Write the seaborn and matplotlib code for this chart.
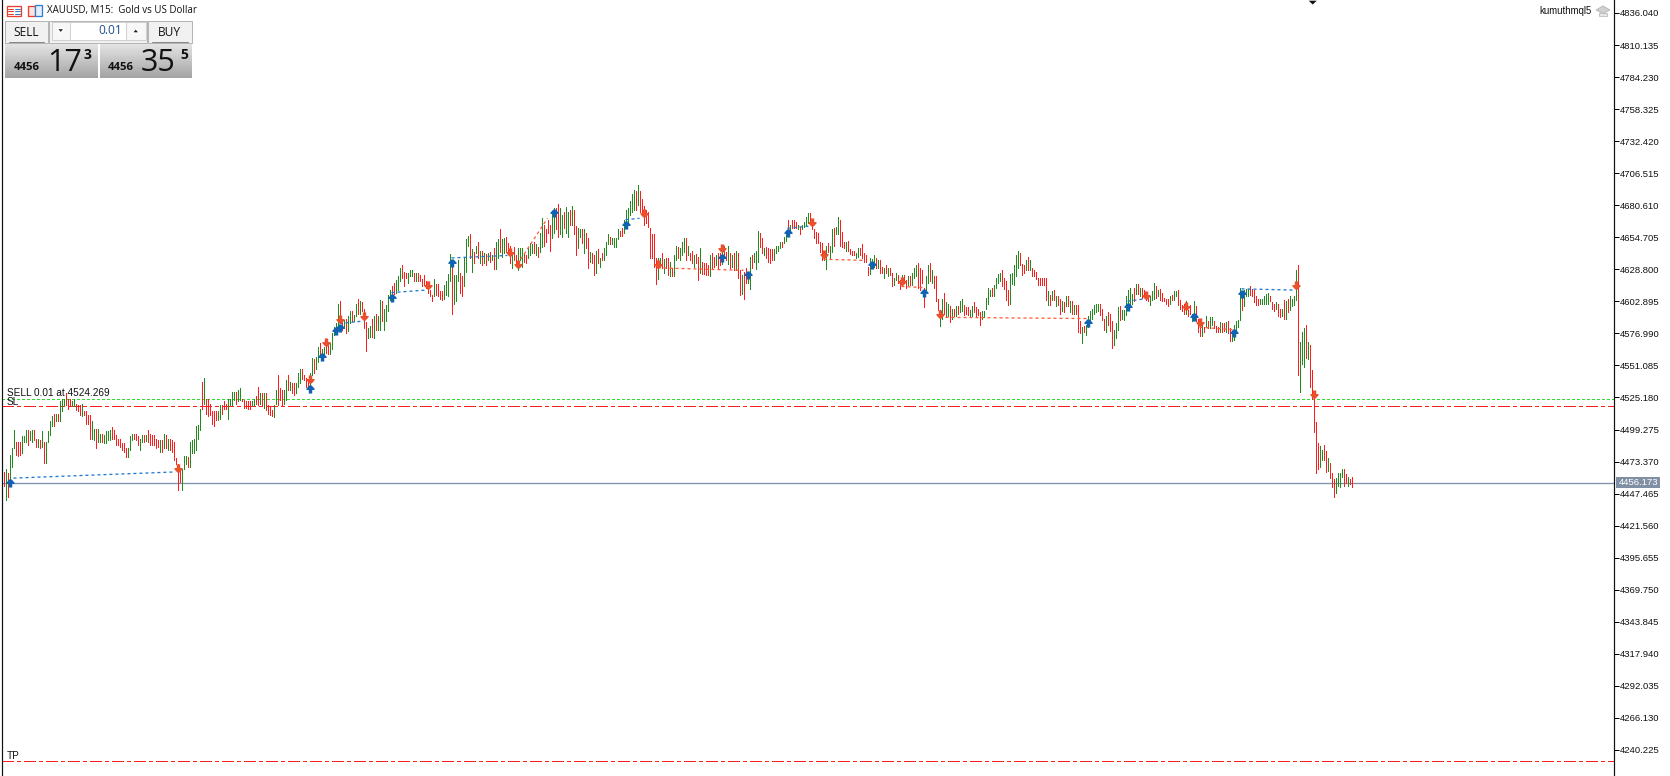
import numpy as np
import pandas as pd
import matplotlib
matplotlib.use("Agg")
import matplotlib.pyplot as plt
from matplotlib.patches import Rectangle, Polygon
from matplotlib.path import Path
import seaborn as sns

highs = [4465,4467,4464,4479,4484,4499,4489,4489,4489,4494,4494,4499,4499,4498,4499,4499,4492,4492,4491,4498,
4489,4489,4498,4506,4510,4512,4512,4512,4522,4524,4524,4529,4524,4524,4522,4524,4520,4519,4519,4520,
4514,4514,4511,4511,4506,4500,4500,4500,4496,4496,4495,4498,4498,4499,4501,4499,4495,4492,4492,4488,
4488,4484,4484,4494,4496,4496,4496,4494,4492,4495,4495,4495,4499,4496,4495,4495,4492,4491,4491,4491,
4496,4495,4492,4492,4491,4489,4476,4471,4468,4467,4478,4478,4477,4489,4491,4492,4502,4503,4516,4538,
4541,4524,4524,4520,4514,4514,4514,4514,4519,4519,4522,4520,4524,4524,4530,4530,4530,4531,4533,4524,
4523,4522,4522,4522,4522,4524,4526,4534,4529,4529,4529,4529,4519,4518,4515,4519,4531,4543,4533,4531,
4531,4539,4543,4538,4537,4537,4537,4545,4548,4548,4543,4541,4539,4545,4557,4556,4558,4566,4569,4564,
4566,4570,4568,4569,4577,4582,4585,4601,4603,4587,4588,4589,4591,4595,4595,4592,4601,4605,4603,4602,
4597,4586,4581,4583,4589,4591,4593,4591,4604,4603,4597,4600,4608,4612,4615,4618,4620,4623,4630,4632,
4627,4626,4626,4628,4628,4626,4626,4626,4624,4621,4624,4619,4618,4612,4608,4621,4617,4617,4611,4611,
4616,4619,4625,4641,4631,4624,4624,4636,4626,4623,4638,4653,4656,4657,4645,4643,4648,4651,4644,4644,
4642,4641,4642,4643,4640,4646,4651,4653,4661,4653,4654,4655,4650,4648,4643,4647,4640,4646,4646,4646,
4642,4640,4647,4650,4649,4651,4649,4647,4658,4670,4665,4661,4669,4665,4674,4678,4678,4682,4678,4673,
4675,4679,4675,4677,4680,4677,4664,4662,4661,4661,4661,4658,4654,4643,4642,4640,4644,4645,4638,4642,
4646,4651,4657,4655,4654,4654,4654,4661,4660,4662,4669,4677,4678,4684,4690,4693,4692,4697,4692,4686,
4680,4677,4675,4662,4657,4657,4638,4638,4638,4642,4637,4638,4638,4635,4630,4640,4648,4647,4646,4651,
4654,4654,4648,4642,4644,4640,4641,4639,4646,4635,4634,4634,4632,4640,4642,4639,4640,4642,4642,4643,
4648,4643,4648,4642,4640,4642,4644,4642,4628,4624,4627,4630,4626,4639,4640,4642,4644,4660,4658,4654,
4646,4647,4646,4645,4645,4645,4648,4648,4651,4651,4655,4657,4669,4665,4669,4669,4667,4665,4663,4665,
4667,4671,4674,4674,4669,4661,4659,4658,4651,4650,4642,4648,4650,4648,4661,4662,4663,4671,4669,4659,
4651,4651,4652,4645,4644,4644,4642,4646,4646,4649,4642,4640,4631,4638,4637,4640,4638,4636,4636,4631,
4630,4632,4630,4630,4626,4622,4626,4624,4620,4624,4624,4620,4623,4623,4626,4630,4632,4634,4630,4628,
4614,4623,4632,4634,4628,4623,4623,4605,4596,4605,4610,4602,4601,4599,4597,4597,4599,4599,4603,4605,
4600,4598,4598,4596,4599,4602,4598,4597,4594,4595,4595,4606,4614,4612,4614,4616,4622,4625,4626,4628,
4622,4619,4612,4625,4626,4632,4640,4644,4642,4633,4632,4636,4639,4636,4630,4628,4627,4622,4622,4622,
4622,4622,4611,4608,4611,4612,4607,4607,4605,4603,4602,4607,4607,4603,4603,4600,4600,4600,4587,4582,
4583,4584,4591,4595,4597,4600,4601,4601,4601,4597,4589,4591,4594,4593,4587,4580,4585,4598,4599,4596,
4596,4607,4612,4614,4609,4614,4617,4617,4614,4614,4612,4609,4608,4607,4611,4618,4615,4612,4613,4610,
4606,4605,4605,4607,4608,4611,4611,4612,4604,4600,4601,4603,4596,4600,4593,4603,4599,4589,4585,4585,
4582,4591,4587,4590,4590,4587,4583,4582,4586,4585,4585,4586,4587,4581,4577,4584,4587,4588,4614,4611,
4612,4613,4613,4615,4613,4612,4607,4605,4605,4605,4607,4609,4610,4607,4602,4601,4602,4601,4597,4597,
4604,4603,4605,4607,4605,4607,4628,4632,4570,4578,4581,4584,4570,4568,4547,4530,4505,4488,4486,4483,
4487,4482,4476,4472,4464,4459,4460,4464,4464,4467,4467,4463,4461,4459,4461]
lows = [4454,4442,4445,4458,4469,4484,4479,4478,4479,4480,4489,4489,4487,4491,4489,4491,4485,4485,4484,4485,
4472,4472,4489,4495,4502,4502,4506,4506,4506,4514,4519,4519,4516,4519,4518,4518,4515,4514,4511,4510,
4511,4504,4504,4492,4492,4491,4484,4489,4489,4489,4488,4488,4491,4491,4492,4492,4487,4487,4485,4483,
4481,4477,4477,4483,4491,4492,4491,4487,4483,4489,4489,4490,4489,4487,4487,4487,4484,4485,4481,4481,
4484,4484,4483,4483,4481,4475,4471,4450,4457,4450,4467,4471,4469,4469,4480,4480,4483,4492,4499,4516,
4520,4512,4510,4511,4504,4502,4507,4507,4508,4512,4516,4516,4508,4519,4519,4523,4520,4522,4523,4522,
4517,4517,4516,4516,4518,4519,4520,4519,4520,4519,4517,4515,4512,4511,4510,4509,4520,4519,4523,4518,
4520,4523,4531,4531,4529,4527,4529,4534,4537,4540,4539,4534,4534,4533,4543,4545,4548,4554,4558,4556,
4560,4561,4560,4560,4564,4576,4579,4580,4588,4580,4581,4577,4579,4585,4587,4587,4591,4593,4593,4595,
4581,4563,4573,4574,4574,4573,4580,4580,4580,4587,4580,4587,4595,4604,4607,4609,4610,4612,4619,4622,
4615,4622,4618,4623,4623,4619,4619,4619,4619,4615,4616,4614,4610,4607,4603,4607,4608,4607,4605,4604,
4605,4608,4607,4619,4593,4601,4603,4619,4610,4607,4615,4627,4648,4638,4627,4634,4642,4638,4634,4632,
4634,4632,4636,4635,4636,4629,4629,4638,4643,4639,4642,4643,4644,4634,4630,4636,4632,4628,4636,4631,
4635,4634,4638,4640,4642,4642,4640,4639,4643,4647,4648,4651,4658,4644,4654,4658,4661,4655,4657,4655,
4662,4658,4655,4665,4665,4657,4640,4646,4655,4650,4642,4646,4630,4635,4634,4624,4626,4634,4631,4636,
4636,4640,4649,4649,4649,4647,4647,4653,4656,4656,4658,4666,4665,4673,4675,4677,4677,4681,4675,4673,
4665,4666,4663,4638,4638,4631,4617,4621,4631,4630,4626,4630,4624,4623,4623,4623,4636,4638,4636,4640,
4643,4636,4640,4636,4634,4631,4634,4620,4626,4625,4625,4624,4624,4623,4630,4631,4632,4629,4632,4633,
4639,4636,4633,4630,4631,4628,4628,4622,4608,4609,4605,4618,4618,4613,4630,4635,4629,4635,4647,4642,
4640,4638,4635,4634,4636,4636,4642,4644,4646,4647,4650,4652,4659,4658,4662,4662,4662,4661,4657,4661,
4663,4665,4666,4666,4661,4654,4650,4650,4643,4636,4636,4629,4643,4638,4643,4648,4657,4657,4648,4647,
4646,4644,4644,4641,4640,4640,4638,4639,4640,4638,4635,4635,4624,4625,4632,4631,4630,4630,4626,4626,
4622,4626,4623,4624,4615,4616,4620,4618,4613,4616,4618,4614,4616,4616,4616,4622,4623,4614,4612,4618,
4598,4611,4618,4619,4618,4614,4603,4596,4583,4589,4593,4590,4591,4586,4589,4591,4591,4593,4594,4595,
4592,4593,4592,4591,4591,4594,4591,4592,4584,4589,4590,4597,4601,4607,4607,4607,4614,4618,4619,4615,
4613,4604,4600,4601,4617,4616,4623,4630,4632,4624,4626,4628,4628,4628,4623,4623,4621,4616,4616,4616,
4616,4604,4600,4600,4604,4604,4599,4600,4593,4595,4594,4599,4599,4594,4593,4593,4593,4578,4577,4569,
4578,4576,4582,4587,4589,4593,4594,4595,4592,4588,4580,4578,4584,4579,4565,4568,4573,4580,4588,4589,
4588,4592,4597,4601,4601,4603,4609,4609,4607,4606,4607,4604,4603,4600,4604,4605,4606,4607,4604,4603,
4603,4601,4599,4601,4604,4604,4607,4600,4597,4595,4593,4593,4591,4593,4587,4592,4587,4578,4575,4575,
4578,4582,4581,4581,4584,4581,4578,4578,4578,4578,4579,4578,4577,4571,4571,4572,4580,4582,4588,4596,
4599,4607,4607,4608,4607,4602,4600,4600,4601,4601,4601,4601,4601,4603,4597,4595,4597,4591,4590,4591,
4589,4589,4594,4596,4599,4600,4604,4543,4530,4552,4550,4557,4556,4534,4524,4497,4464,4467,4469,4475,
4475,4465,4466,4460,4453,4445,4448,4454,4453,4461,4454,4456,4454,4455,4453]
directions = ("rgrgggrrrg" "ggrggrrgrg" "rggggrgrgg" "grrrggrrrg" "rrrrggrggr" "ggggrrrrrr" "rrgggrrrgg" "rgrrrrrrgr"
"grgrrrrrrg" "ggrggggggr" "grrrrrrggr" "rrggggrggr" "rrrrggrrgr" "grrrrggrrr" "ggrgrrgggr" "rrrggrggrg"
"grrgggggrr" "grggrggrgr" "rrggrgrggr" "ggggrrgggr" "rrgggrgrrr" "rrrrrgrrrr" "ggggrgggrr" "gggrgrgrgr"
"grgrgrggrg" "grrrgrrggg" "rrgggrgrgg" "rrrrggrrgg" "rggrgrrggr" "grrgrrgrgr" "gggrggggrr" "ggggggrgrr"
"rrrrrrrggr" "grrgrggrgg" "grgrrgrrgr" "rrrgrrgrrg" "rrgrgrgrrg" "rrggrgggrr" "grrrrggggr" "ggrgrrrgrg"
"gggrrrrrrr" "ggrggrggrr" "rgrrrrggrr" "rrrgggrgrr" "grgrrggrrg" "rrgrgggrrr" "rggrgrrrgg" "rggrgrgrgg"
"rrrggrrrrg" "ggggrggggr" "rrrgggggrr" "rgrgrrrrrr" "rrgrgrgrrg" "rgrgrgrrrg" "rgggggggrr" "rgrrrgggrg"
"gggggrgrgr" "rrrgggrgrr" "rrrgrggrrr" "rgrrggrrrg" "rgrggrrrgr" "rgrrgggggr" "gggrrrrrgg" "gggrrrgrrg"
"rgrggggrgg" "grgrrrrrgg" "rrgrrrgggg" "rrgrr")

buy_bars = [3,153,159,166,168,194,224,275,311,359,372,392,434,460,542,562,595,615,619]
buy_prices = [4456,4532,4558,4579,4581,4606,4634,4674,4665,4638,4624,4658,4632,4610,4585,4598,4590,4577,4609]
sell_bars = [87,153,161,168,180,212,253,257,320,327,359,404,410,449,468,571,591,598,646,655]
sell_prices = [4468,4540,4570,4589,4591,4616,4643,4633,4674,4633,4646,4667,4641,4619,4593,4608,4599,4586,4616,4528]

trade_side = ["buy","buy","buy","buy","buy","buy","buy","buy","sell","sell","sell","sell","sell","sell"]
trade_bar0 = [5,168,194,224,311,392,562,619,257,327,410,449,468,598]
trade_bar1 = [86,180,211,252,318,404,571,646,272,370,430,460,542,615]
trade_p0 = [4460,4585,4610,4638,4669,4662,4603,4613,4633,4630,4637,4615,4590,4582]
trade_p1 = [4465,4587,4612,4640,4670,4664,4605,4612,4670,4628,4636,4614,4589,4580]

tick_values = [4836.040,4810.135,4784.230,4758.325,4732.420,4706.515,4680.610,4654.705,4628.800,4602.895,4576.990,4551.085,
               4525.180,4499.275,4473.370,4447.465,4421.560,4395.655,4369.750,4343.845,4317.940,4292.035,4266.130,4240.225]
bid_price = 4456.173
entry_price = 4524.269
sl_price = 4518.0
tp_price = 4231.3
price_top = 4846.55
price_bottom = 4219.15

UP = "#228b1e"
DOWN = "#ff1c1c"
BLUE = "#0f62b4"
ORANGE = "#e9502b"
PX = 0.72

sns.set_theme(style="white")
plt.rcParams["font.family"] = ["Liberation Sans", "DejaVu Sans"]
plt.rcParams["lines.scale_dashes"] = False

W, H = 1670, 776
fig = plt.figure(figsize=(W / 100, H / 100), dpi=100, facecolor="white")
ax = fig.add_axes([1.5 / W, 0, (1613.5 - 1.5) / W, 1], facecolor="white")

n = len(highs)
bars = pd.DataFrame({
    "bar": np.tile(np.arange(n), 2),
    "price": highs + lows,
    "dir": list(directions) * 2,
})
sns.lineplot(data=bars, x="bar", y="price", hue="dir", units="bar", estimator=None, sort=False,
             palette={"g": UP, "r": DOWN}, lw=0.95 * PX, legend=False, ax=ax,
             solid_capstyle="butt", zorder=3)
for line in ax.lines:
    line.set_antialiased(False)

trades = pd.DataFrame({
    "trade": list(range(len(trade_side))) * 2,
    "side": trade_side * 2,
    "bar": trade_bar0 + trade_bar1,
    "price": trade_p0 + trade_p1,
})
sns.lineplot(data=trades, x="bar", y="price", hue="side", units="trade", estimator=None,
             palette={"buy": "#1f78d1", "sell": "#ff5a36"}, lw=1.3 * PX, legend=False, ax=ax,
             dashes=False, linestyle=(0, (3 * PX, 3 * PX)), zorder=4)

up_arrow = Path([(-1, 3.5), (1, 3.5), (3.5, 0.7), (3.5, -0.4), (1.5, -0.4), (1.5, -3.5), (-1.5, -3.5), (-1.5, -0.4),
                 (-3.5, -0.4), (-3.5, 0.7), (-1, 3.5)], closed=True)
down_arrow = Path([(-1, -3.5), (1, -3.5), (3.5, -0.7), (3.5, 0.4), (1.5, 0.4), (1.5, 3.5), (-1.5, 3.5), (-1.5, 0.4),
                   (-3.5, 0.4), (-3.5, -0.7), (-1, -3.5)], closed=True)
sns.scatterplot(x=buy_bars, y=buy_prices, marker=up_arrow, color=BLUE, s=34, linewidth=0, ax=ax, zorder=6, legend=False)
sns.scatterplot(x=sell_bars, y=sell_prices, marker=down_arrow, color=ORANGE, s=34, linewidth=0, ax=ax, zorder=6, legend=False)

ax.axhline(bid_price, color="#7d91ab", lw=1.3 * PX, zorder=2)
ax.axhline(entry_price, color="#2fdc2f", lw=1.0 * PX, ls=(0, (2.2 * PX, 2.2 * PX)), zorder=2, antialiased=False)
red_dash = (0, (11 * PX, 4 * PX, 3 * PX, 4 * PX))
ax.axhline(sl_price, color="#ff1c1c", lw=1.2 * PX, ls=red_dash, zorder=2, antialiased=False)
ax.axhline(tp_price, color="#ff1c1c", lw=1.2 * PX, ls=red_dash, zorder=2, antialiased=False)

ax.set_xlim(-1.0, 805.0)
ax.set_ylim(price_bottom, price_top)
ax.set_xlabel("")
ax.set_ylabel("")
ax.set_xticks([])
ax.yaxis.tick_right()
ax.set_yticks(tick_values)
ax.set_yticklabels([f"{v:.3f}" for v in tick_values])
ax.tick_params(axis="y", which="major", right=True, left=False, direction="out", length=5 * PX,
               width=PX, color="black", labelsize=6.8, labelcolor="#111111", pad=0.8)
for name, spine in ax.spines.items():
    spine.set_visible(name in ("left", "right"))
    spine.set_color("#111111")
    spine.set_linewidth(1.2 * PX)

# terminal furniture, in screen pixels
ui = fig.add_axes([0, 0, 1, 1], zorder=5)
ui.patch.set_alpha(0)
ui.set_axis_off()
grad = np.linspace(0.90, 0.64, 64).reshape(-1, 1)
for x0, x1 in [(5, 98), (100, 192)]:
    ui.imshow(grad, extent=(x0, x1, 78, 43), cmap="gray", vmin=0, vmax=1, aspect="auto", zorder=1)
ui.set_xlim(0, W)
ui.set_ylim(H, 0)
for x0, x1 in [(5, 48), (148, 192)]:
    ui.add_patch(Rectangle((x0, 21), x1 - x0, 22, fc="#f1f1f1", ec="#b5b5b5", lw=PX, zorder=1))
    ui.plot([x0 + 4, x1 - 4], [42, 42], color="#8a8a8a", lw=PX, zorder=2)
ui.add_patch(Rectangle((49, 21), 98, 22, fc="#f1f1f1", ec="#b5b5b5", lw=PX, zorder=1))
ui.add_patch(Rectangle((52, 22), 94, 18, fc="white", ec="#d0d0d0", lw=PX, zorder=2))
ui.add_patch(Rectangle((52, 22), 18, 18, fc="#f7f7f7", ec="#d0d0d0", lw=PX, zorder=3))
ui.add_patch(Rectangle((126, 22), 20, 18, fc="#f7f7f7", ec="#d0d0d0", lw=PX, zorder=3))
ui.add_patch(Polygon([(57, 28.5), (64.5, 28.5), (60.7, 33)], fc="#222222", zorder=4))
ui.add_patch(Polygon([(132, 33), (139.5, 33), (135.7, 28.5)], fc="#222222", zorder=4))

def label(x, y, s, size, color="#111111", ha="left", weight="normal", family=None):
    ui.text(x, y, s, fontsize=size, color=color, ha=ha, va="center", weight=weight, zorder=6,
            family=family or ["Liberation Sans", "DejaVu Sans"])

label(47, 11, "XAUUSD, M15:  Gold vs US Dollar", 7.0, family=["Open Sans"])
label(26.5, 32, "SELL", 8.6, ha="center", family=["Open Sans"])
label(169, 32, "BUY", 8.6, ha="center", family=["Open Sans"])
label(122, 31, "0.01", 8.6, color="#1f4f8f", ha="right", family=["Open Sans"])
label(14, 67.5, "4456", 8.2, weight="bold", family=["Open Sans"])
label(47, 63, "17", 22, family=["Open Sans"])
label(87, 55, "3", 10, weight="bold", ha="center", family=["Open Sans"])
label(108, 67.5, "4456", 8.2, weight="bold", family=["Open Sans"])
label(141, 63, "35", 22, family=["Open Sans"])
label(184, 55, "5", 10, weight="bold", ha="center", family=["Open Sans"])
label(7, 393.5, "SELL 0.01 at 4524.269", 7.2)
label(7, 402, "SL", 7.2)
label(7, 756, "TP", 7.2)
label(1539.5, 10.5, "kumuthmql5", 6.9)

# icons
ui.add_patch(Rectangle((6.5, 5.5), 14, 10, fc="white", ec="#e8402f", lw=PX * 1.3, zorder=3))
for yy in (8.5, 11, 13.5):
    ui.plot([8, 13], [yy, yy], color="#e8402f", lw=PX, zorder=4)
    ui.plot([14.5, 19.5], [yy, yy], color="#2f7fd0", lw=PX, zorder=4)
ui.add_patch(Rectangle((27.5, 6), 7, 9.5, fc="#fbe3de", ec="#e8402f", lw=PX * 1.3, zorder=3))
ui.add_patch(Rectangle((35, 5), 6.5, 10.5, fc="#e3effa", ec="#2f7fd0", lw=PX * 1.3, zorder=3))

# mortar board mark and chart shift pointer
ui.add_patch(Polygon([(1596, 10), (1603, 6), (1610, 10), (1603, 13.5)], fc="#d0d0d0", ec="#bcbcbc", lw=PX, zorder=3))
ui.add_patch(Polygon([(1599, 12.5), (1607, 12.5), (1607, 15.5), (1599, 15.5)], fc="#e6e6e6", ec="#c4c4c4", lw=PX, zorder=2))
ui.add_patch(Polygon([(1307, 0), (1318.5, 0), (1312.7, 5.5)], fc="#111111", zorder=3))

# bid price tag
ui.add_patch(Rectangle((1616, 477), 44, 11, fc="#7f8fa4", ec="none", zorder=3))
label(1619, 482.7, f"{bid_price:.3f}", 6.8, color="white")

fig.savefig("out.png", dpi=100, facecolor="white")
